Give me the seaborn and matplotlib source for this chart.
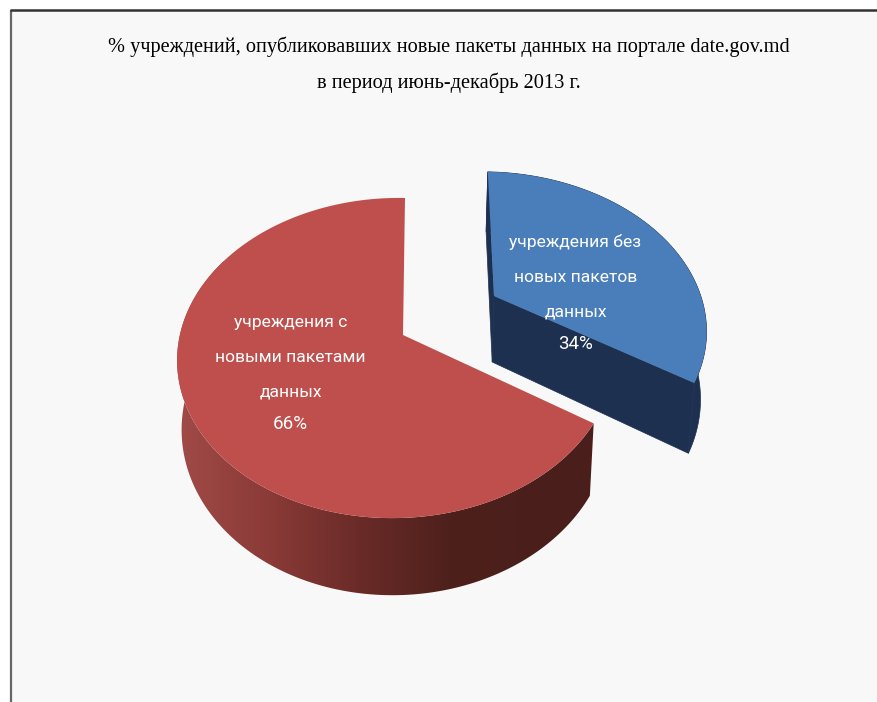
import numpy as np
import matplotlib
matplotlib.use("Agg")
import matplotlib.pyplot as plt
from matplotlib.patches import Polygon
import seaborn as sns

# ---- data ----
categories = ["учреждения без\nновых пакетов\nданных", "учреждения с\nновыми пакетами\nданных"]
shares = [34, 66]
title_lines = ["% учреждений, опубликовавших новые пакеты данных на портале date.gov.md",
               "в период июнь-декабрь 2013 г."]
top_colors = ["#4A7EBB", "#BE4F4C"]
blue_wall = "#1D3050"
red_wall_stops = ["#A04A47", "#8A3A37", "#6A2B28", "#4E201C", "#4A1F1B"]

sns.set_theme(style="white")
plt.rcParams["font.family"] = ["Liberation Serif", "DejaVu Serif"]

fig = plt.figure(figsize=(8.78, 7.02), dpi=100, facecolor="white")
ax = fig.add_axes([0, 0, 1, 1])
ax.set_xlim(0, 878)
ax.set_ylim(702, 0)
ax.axis("off")

# panel
ax.fill([11, 878, 878, 11], [10, 10, 702, 702], color="#F8F8F8", zorder=0)
ax.plot([11, 11], [702, 10], color="#666666", lw=1.6, zorder=1, solid_capstyle="butt")
ax.plot([10, 878], [10, 10], color="#333333", lw=1.8, zorder=1, solid_capstyle="butt")

VX = 403.0


def rim(theta, apex, a, b, k, m, shear):
    """Perspective projection of the unit pie rim (theta clockwise from the far point)."""
    u, v = np.sin(theta), np.cos(theta)
    w = 1 + k * v + m * u
    dy = -b * v / w
    return apex[0] + a * u / w + shear * dy, apex[1] + dy


def lower(x, y):
    """The same point on the bottom face of the extruded pie."""
    return VX + 0.98 * (x - VX), y + 66 + (y - 296) * 0.05


fractions = np.array(shares) / sum(shares)
split = 2 * np.pi * fractions[0]

blue = dict(apex=(494, 296), a=213, b=149, k=0.2, m=0.03, shear=0.05)
red = dict(apex=(403, 335), a=216, b=156.7, k=0.1437, m=0.032, shear=-0.0146)

# --- blue slice ---
th = np.linspace(0, split, 120)
xb, yb = rim(th, **blue)
ax_, ay_ = blue["apex"]
xs, ys = np.r_[ax_, xb], np.r_[ay_, yb]
lx, ly = lower(xs, ys)
ax.fill(np.r_[xs[0], xs[1], lx[1], lx[0]], np.r_[ys[0], ys[1], ly[1], ly[0]], color=blue_wall, lw=0.5, zorder=2)
ax.fill(np.r_[xs[0], xs[-1], lx[-1], lx[0]], np.r_[ys[0], ys[-1], ly[-1], ly[0]], color=blue_wall, lw=0.5, zorder=2)
ax.fill(np.r_[xs[1:], lx[1:][::-1]], np.r_[ys[1:], ly[1:][::-1]], color=blue_wall, lw=0.5, zorder=2)
ax.fill(xs, ys, color=top_colors[0], lw=0, zorder=3)

# --- red slice ---
th = np.linspace(split, 2 * np.pi, 260)
xr, yr = rim(th, **red)
lxr, lyr = lower(xr, yr)
keep = th <= np.radians(300)
x_left, x_right = 180.0, 540.0
gradient = np.array(sns.blend_palette(red_wall_stops, n_colors=256))[None, :, :]
img = ax.imshow(gradient, extent=(x_left, x_right, 702, 0), aspect="auto", zorder=4, interpolation="bilinear")
ramp_left = ax.fill([0, x_left, x_left, 0], [0, 0, 702, 702], color=red_wall_stops[0], lw=0, zorder=4)[0]
ramp_right = ax.fill([x_right, 878, 878, x_right], [0, 0, 702, 702], color=red_wall_stops[-1], lw=0, zorder=4)[0]
clip = Polygon(np.c_[np.r_[xr[keep], lxr[keep][::-1]], np.r_[yr[keep], lyr[keep][::-1]]],
               closed=True, transform=ax.transData)
for artist in (img, ramp_left, ramp_right):
    artist.set_clip_path(clip)
ax.set_xlim(0, 878)
ax.set_ylim(702, 0)
ax.fill(np.r_[red["apex"][0], xr], np.r_[red["apex"][1], yr], color=top_colors[1], lw=0, zorder=5)

# --- title ---
ax.text(448.5, 47, title_lines[0], ha="center", va="center", fontsize=14.7, color="#000000", zorder=6)
ax.text(448.5, 83, title_lines[1], ha="center", va="center", fontsize=14.7, color="#000000", zorder=6)

# --- labels ---
label_font = ["Roboto", "Liberation Sans", "DejaVu Sans"]
anchors = [(575.5, 242), (290.5, 322)]
for (x0, y0), cat, share in zip(anchors, categories, shares):
    for n, line in enumerate(cat.split("\n")):
        ax.text(x0, y0 + n * 35, line, ha="center", va="center", color="white",
                fontsize=12.6, family=label_font, zorder=7)
    ax.text(x0, y0 + 102, f"{share}%", ha="center", va="center", color="white",
            fontsize=13.5, family=label_font, zorder=7)

fig.savefig("out.png", dpi=100, facecolor="white")
